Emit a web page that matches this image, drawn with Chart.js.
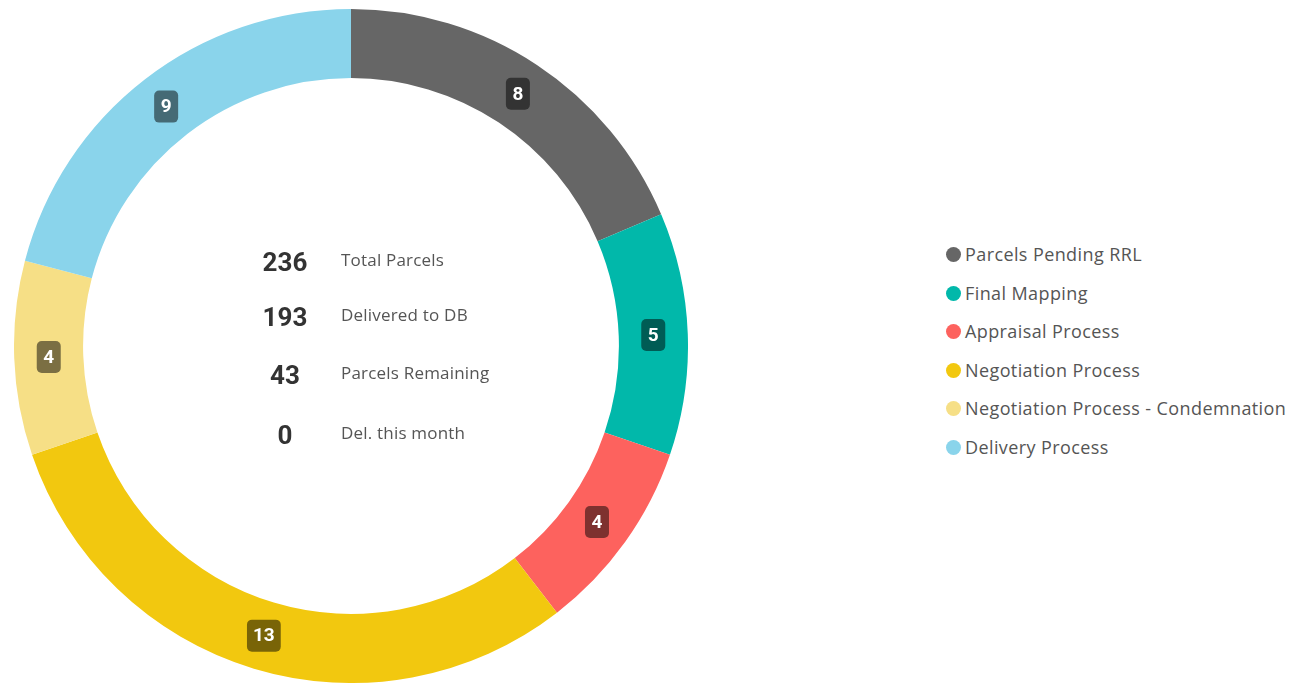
<!DOCTYPE html>
<html>
<head>
<meta charset="utf-8">
<script src="https://cdn.jsdelivr.net/npm/chart.js@4"></script>
<style>
  body { margin: 0; background: #fff; width: 1307px; height: 687px; overflow: hidden; position: relative; font-family: 'Open Sans', 'Noto Sans', sans-serif; }
  #wrap { position: absolute; left: 14px; top: 9px; width: 674px; height: 674px; }
  #summary { position: absolute; left: 240px; top: 240px; }
  .row { position: absolute; white-space: nowrap; height: 30px; line-height: 30px; }
  .row .num { position: absolute; width: 90px; left: 0; text-align: center; font-family: 'Roboto', sans-serif; font-weight: 700; font-size: 26px; color: #333; }
  .row .txt { position: absolute; left: 101px; top: -2px; font-size: 17px; letter-spacing: 0.2px; color: #555; }
  #legend { position: absolute; left: 946px; top: 242px; }
  .item { position: absolute; white-space: nowrap; font-size: 18px; letter-spacing: 0.4px; color: #555; line-height: 24px; }
  .item span.dot { display: inline-block; width: 15px; height: 15px; border-radius: 50%; vertical-align: -1px; margin-right: 4px; }
</style>
</head>
<body>
<div id="wrap"><canvas id="donut"></canvas></div>
<div id="summary"></div>
<div id="legend"></div>
<script>
// 資料
var categories = ['Parcels Pending RRL', 'Final Mapping', 'Appraisal Process', 'Negotiation Process', 'Negotiation Process - Condemnation', 'Delivery Process'];
var values = [8, 5, 4, 13, 4, 9];
var colors = ['#666666', '#01B8AA', '#FD625E', '#F2C80F', '#F6DF86', '#8AD4EB'];

var summaryNumbers = ['236', '193', '43', '0'];
var summaryLabels = ['Total Parcels', 'Delivered to DB', 'Parcels Remaining', 'Del. this month'];
var summaryRowsY = [7, 62, 120, 180];

// 中間的文字
var summary = document.getElementById('summary');
summaryNumbers.forEach(function (n, i) {
  var row = document.createElement('div');
  row.className = 'row';
  row.style.top = summaryRowsY[i] + 'px';
  row.innerHTML = '<span class="num">' + n + '</span><span class="txt">' + summaryLabels[i] + '</span>';
  summary.appendChild(row);
});

// 圖例
var legend = document.getElementById('legend');
categories.forEach(function (c, i) {
  var item = document.createElement('div');
  item.className = 'item';
  item.style.top = (i * 38.5) + 'px';
  item.innerHTML = '<span class="dot" style="background:' + colors[i] + '"></span>' + c;
  legend.appendChild(item);
});

// 數值標籤 (深色圓角框)
var valueBoxes = {
  id: 'valueBoxes',
  afterDatasetsDraw: function (chart) {
    var ctx = chart.ctx;
    var meta = chart.getDatasetMeta(0);
    ctx.save();
    ctx.font = 'bold 19px Roboto, sans-serif';
    ctx.textAlign = 'center';
    ctx.textBaseline = 'middle';
    meta.data.forEach(function (arc, i) {
      var p = arc.getCenterPoint();
      var text = String(values[i]);
      var w = Math.max(24, ctx.measureText(text).width + 12);
      var h = 32;
      ctx.fillStyle = 'rgba(0,0,0,0.5)';
      ctx.beginPath();
      ctx.roundRect(p.x - w / 2, p.y - h / 2, w, h, 5);
      ctx.fill();
      ctx.fillStyle = '#ffffff';
      ctx.fillText(text, p.x, p.y + 1);
    });
    ctx.restore();
  }
};

var ctx = document.getElementById('donut');
new Chart(ctx, {
  type: 'doughnut',
  data: {
    labels: categories,
    datasets: [{
      data: values,
      backgroundColor: colors,
      borderWidth: 0,
    }],
  },
  options: {
    responsive: true,
    maintainAspectRatio: false,
    animation: false,
    cutout: '79.5%',
    layout: { padding: 0 },
    plugins: {
      legend: { display: false },
      tooltip: { enabled: false },
    },
  },
  plugins: [valueBoxes],
});
</script>
</body>
</html>
